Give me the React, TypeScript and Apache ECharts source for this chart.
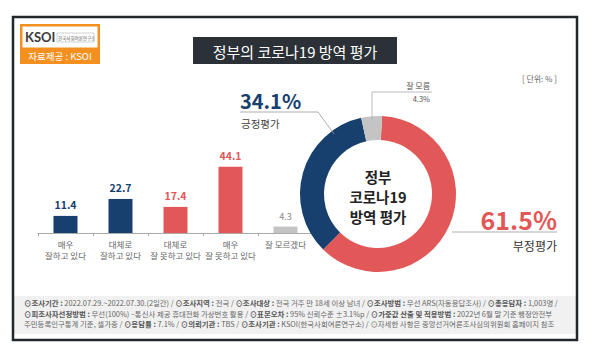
import React, { useEffect, useRef } from "react";
import * as echarts from "echarts";

const categories = ["매우\n잘하고 있다", "대체로\n잘하고 있다", "대체로\n잘 못하고 있다", "매우\n잘 못하고 있다", "잘 모르겠다"];
const barValues = [11.4, 22.7, 17.4, 44.1, 4.3];
const pieNames = ["부정평가", "긍정평가", "잘 모름"];
const pieValues = [61.5, 34.1, 4.3];
const centerLines = ["정부", "코로나19", "방역 평가"];
const footerLines = [
  [["b", "⊙조사기간 : "], ["n", "2022.07.29.~2022.07.30.(2일간) / "], ["b", "⊙조사지역 : "], ["n", "전국 / "], ["b", "⊙조사대상 : "], ["n", "전국 거주 만 18세 이상 남녀 / "], ["b", "⊙조사방법 : "], ["n", "무선 ARS(자동응답조사) / "], ["b", "⊙총응답자 : "], ["n", "1,003명 /"]],
  [["b", "⊙피조사자선정방법 : "], ["n", "무선(100%) –통신사 제공 휴대전화 가상번호 활용 / "], ["b", "⊙표본오차 : "], ["n", "95% 신뢰수준 ±3.1%p / "], ["b", "⊙가중값 산출 및 적용방법 : "], ["n", "2022년 6월 말 기준 행정안전부"]],
  [["n", "주민등록인구통계 기준, 셀가중 / "], ["b", "⊙응답률 : "], ["n", "7.1% / "], ["b", "⊙의뢰기관 : "], ["n", "TBS / "], ["b", "⊙조사기관 : "], ["n", "KSOI(한국사회여론연구소) / ⊙자세한 사항은 중앙선거여론조사심의위원회 홈페이지 참조"]],
];

const NAVY = "#17406f";
const RED = "#e25858";
const GRAY = "#c4c4c4";
const FONT = "'Noto Sans CJK KR', 'Noto Sans', sans-serif";

const barColors = [NAVY, NAVY, RED, RED, GRAY];
const labelColors = [NAVY, NAVY, RED, RED, "#888"];
const pieColors = [RED, NAVY, GRAY];

export default function App() {
  const ref = useRef<HTMLDivElement>(null);
  useEffect(() => {
    const chart = echarts.init(ref.current!, null, { renderer: "svg" });
    const footerGraphics = footerLines.map((line, i) => ({
      type: "text",
      left: 24,
      top: 299 + i * 10.5,
      style: {
        text: line.map(([k, t]) => `{${k}|${t.replace(/[{}|]/g, "")}}`).join(""),
        rich: {
          b: { fontSize: 7.4, fontWeight: "bold", fill: "#555", fontFamily: FONT },
          n: { fontSize: 7.4, fill: "#666", fontFamily: FONT },
        },
      },
      z: 10,
    }));
    const centerGraphics = centerLines.map((t, i) => ({
      type: "text",
      x: 378,
      y: 176 + i * 20,
      style: { text: t, fontSize: 14.5, fontWeight: "bold", fill: "#222", fontFamily: FONT, align: "center", verticalAlign: "middle" },
      z: 10,
    }));
    const option: any = {
      animation: false,
      backgroundColor: "#fff",
      textStyle: { fontFamily: FONT },
      grid: { left: 38, top: 143, width: 275, height: 90 },
      xAxis: {
        type: "category",
        data: categories,
        axisLine: { lineStyle: { color: "#aaa" } },
        axisTick: { show: true, length: 3, lineStyle: { color: "#aaa" } },
        axisLabel: { interval: 0, color: "#666", fontSize: 8.5, lineHeight: 11, margin: 5, fontFamily: FONT },
      },
      yAxis: { type: "value", min: 0, max: 60, show: false, splitLine: { show: false } },
      series: [
        {
          type: "bar",
          barWidth: 24,
          data: barValues.map((v, i) => ({
            value: v,
            itemStyle: { color: barColors[i] },
            label: {
              show: true,
              position: "top",
              distance: 6,
              color: labelColors[i],
              fontWeight: i === 4 ? "normal" : "bold",
              fontSize: i === 4 ? 9 : 10.5,
              fontFamily: FONT,
            },
          })),
        },
        {
          type: "pie",
          center: [378, 194],
          radius: [54, 78],
          startAngle: 87,
          clockwise: true,
          label: { show: false },
          labelLine: { show: false },
          emphasis: { disabled: true },
          data: pieValues.map((v, i) => ({ value: v, name: pieNames[i], itemStyle: { color: pieColors[i] } })),
          z: 5,
        },
      ],
      graphic: [
        { type: "rect", shape: { x: 14, y: 296, width: 562, height: 38 }, style: { fill: "#f1f1f1" }, z: 1 },
        { type: "rect", shape: { x: 13, y: 17, width: 564, height: 323 }, style: { fill: "none", stroke: "#23272b", lineWidth: 2.5 }, z: 20 },
        // logo
        { type: "rect", shape: { x: 20, y: 24, width: 80, height: 40 }, style: { fill: "#f39020" }, z: 10 },
        { type: "rect", shape: { x: 22.5, y: 26.5, width: 75, height: 21 }, style: { fill: "#fff" }, z: 11 },
        { type: "text", x: 25, y: 37, style: { text: "KSOI", fontSize: 13, fontWeight: "bold", fill: "#3a3a3a", fontFamily: "Lato, sans-serif", verticalAlign: "middle" }, z: 12 },
        { type: "text", x: 58, y: 37.5, style: { text: "한국사회여론연구소", fontSize: 4.5, fill: "#555", fontFamily: FONT, verticalAlign: "middle" }, z: 12 },
        { type: "rect", shape: { x: 57, y: 33, width: 37, height: 9 }, style: { fill: "none", stroke: "#888", lineWidth: 0.4 }, z: 12 },
        { type: "text", x: 60, y: 56, style: { text: "자료제공 : KSOI", fontSize: 9.5, fill: "#fff", fontFamily: FONT, align: "center", verticalAlign: "middle" }, z: 12 },
        // title
        { type: "rect", shape: { x: 193, y: 37, width: 204, height: 27 }, style: { fill: "#2b3137" }, z: 10 },
        { type: "text", x: 295, y: 51, style: { text: "정부의 코로나19 방역 평가", fontSize: 15, fill: "#fff", fontFamily: FONT, align: "center", verticalAlign: "middle" }, z: 11 },
        // unit
        { type: "text", x: 557, y: 78, style: { text: "[ 단위: % ]", fontSize: 8, fill: "#666", fontFamily: FONT, align: "right", verticalAlign: "middle" }, z: 10 },
        ...centerGraphics,
        // positive label
        { type: "text", x: 240, y: 100, style: { text: pieValues[1].toFixed(1) + "%", fontSize: 20, fontWeight: "bold", fill: NAVY, fontFamily: FONT, verticalAlign: "middle" }, z: 10 },
        { type: "text", x: 241, y: 123, style: { text: pieNames[1], fontSize: 10.5, fill: "#444", fontFamily: FONT, verticalAlign: "middle" }, z: 10 },
        { type: "polyline", shape: { points: [[240, 112], [318, 112], [334, 134]] }, style: { stroke: "#999", lineWidth: 0.8, fill: "none" }, z: 10 },
        // negative label
        { type: "text", x: 557, y: 219, style: { text: pieValues[0].toFixed(1) + "%", fontSize: 25, fontWeight: "bold", fill: RED, fontFamily: FONT, align: "right", verticalAlign: "middle" }, z: 10 },
        { type: "line", shape: { x1: 452, y1: 232, x2: 557, y2: 232 }, style: { stroke: "#999", lineWidth: 0.8 }, z: 10 },
        { type: "text", x: 557, y: 245, style: { text: pieNames[0], fontSize: 12, fill: "#333", fontFamily: FONT, align: "right", verticalAlign: "middle" }, z: 10 },
        // unknown label
        { type: "text", x: 430, y: 85, style: { text: pieNames[2], fontSize: 8, fill: "#555", fontFamily: FONT, align: "right", verticalAlign: "middle" }, z: 10 },
        { type: "text", x: 430, y: 98, style: { text: pieValues[2].toFixed(1) + "%", fontSize: 7.5, fill: "#555", fontFamily: FONT, align: "right", verticalAlign: "middle" }, z: 10 },
        { type: "polyline", shape: { points: [[372, 119], [372, 92], [432, 92]] }, style: { stroke: "#aaa", lineWidth: 0.8, fill: "none" }, z: 10 },
        ...footerGraphics,
      ],
    };
    chart.setOption(option);
    return () => chart.dispose();
  }, []);
  return <div ref={ref} style={{ position: "fixed", left: 0, top: 0, width: 593, height: 356 }} />;
}
